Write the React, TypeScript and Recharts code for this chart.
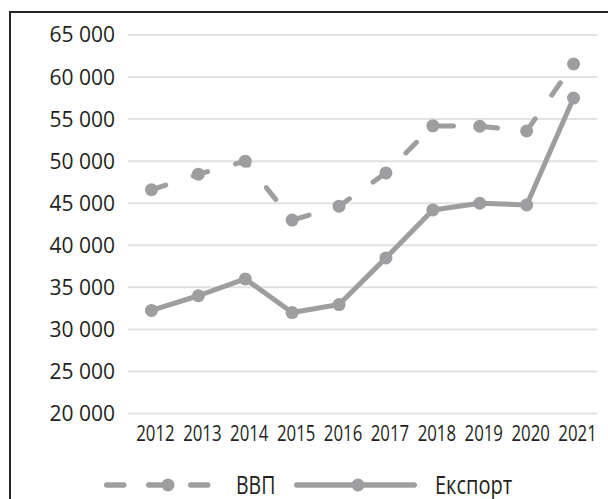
import React from 'react';
import { LineChart, Line, XAxis, YAxis, CartesianGrid, Legend } from 'recharts';

const years = ['2012', '2013', '2014', '2015', '2016', '2017', '2018', '2019', '2020', '2021'];
const gdp = [46600, 48450, 50000, 43000, 44650, 48600, 54200, 54150, 53600, 61550];
const exportVals = [32250, 34000, 36000, 32000, 32950, 38500, 44200, 45000, 44800, 57500];
const yTicks = [20000, 25000, 30000, 35000, 40000, 45000, 50000, 55000, 60000, 65000];
const seriesNames = ['ВВП', 'Експорт'];

const data = years.map((y, i) => ({ year: y, gdp: gdp[i], exp: exportVals[i] }));

const LINE = '#9e9ea0';
const TEXT = '#231f20';
const FONT = "'Open Sans', sans-serif";

const fmt = (v: number) => String(v).replace(/\B(?=(\d{3})+(?!\d))/g, ' ');

const XTick = (props: any) => {
  const { x, y, payload } = props;
  return (
    <g transform={`translate(${x + 4},${y})`}>
      <text textAnchor="middle" dy="0.71em" transform="scale(0.8,1)"
        fontFamily={FONT} fontSize={21} fill={TEXT}>{payload.value}</text>
    </g>
  );
};

const LegendContent = () => (
  <svg width={597} height={28} style={{ display: 'block' }}>
    <line x1={95.75} x2={199.25} y1={14} y2={14} stroke={LINE} strokeWidth={5.5}
      strokeDasharray="17 25" strokeLinecap="round" />
    <circle cx={157} cy={14} r={6.5} fill={LINE} />
    <g transform="translate(225,22.5)">
      <text transform="scale(0.75,1)" fontFamily={FONT} fontSize={26} fill={TEXT}>{seriesNames[0]}</text>
    </g>
    <line x1={285.75} x2={403.25} y1={14} y2={14} stroke={LINE} strokeWidth={5.5} strokeLinecap="round" />
    <circle cx={347} cy={14} r={6.5} fill={LINE} />
    <g transform="translate(424,22.5)">
      <text transform="scale(0.77,1)" fontFamily={FONT} fontSize={26} fill={TEXT}>{seriesNames[1]}</text>
    </g>
  </svg>
);

export default function App() {
  return (
    <div style={{
      position: 'absolute', left: 9, top: 11, width: 597, height: 486,
      borderLeft: '2px solid #262626', borderTop: '2px solid #262626', overflow: 'hidden', background: '#fff'
    }}>
      <LineChart width={597} height={486} data={data} margin={{ top: 22, right: 11, left: 0, bottom: 0 }}>
        <CartesianGrid vertical={false} stroke="#e2e2e2" strokeWidth={2} />
        <XAxis dataKey="year" scale="band" height={57.5} tickSize={0} tickMargin={13}
          axisLine={false} tickLine={false} interval={0} tick={<XTick />} />
        <YAxis domain={[20000, 65000]} ticks={yTicks} width={117} tickSize={0} tickMargin={13}
          axisLine={false} tickLine={false} tickFormatter={fmt} interval={0}
          tick={{ fontFamily: FONT, fontSize: 21, fill: TEXT }} />
        <Legend verticalAlign="bottom" height={28} content={<LegendContent />} />
        <Line type="linear" dataKey="gdp" name={seriesNames[0]} stroke={LINE} strokeWidth={5}
          strokeDasharray="15 29" strokeLinecap="round"
          dot={{ r: 6.5, fill: LINE, stroke: 'none', strokeDasharray: '' }} activeDot={false} isAnimationActive={false} />
        <Line type="linear" dataKey="exp" name={seriesNames[1]} stroke={LINE} strokeWidth={5}
          strokeLinejoin="round"
          dot={{ r: 6.5, fill: LINE, stroke: 'none' }} activeDot={false} isAnimationActive={false} />
      </LineChart>
    </div>
  );
}
